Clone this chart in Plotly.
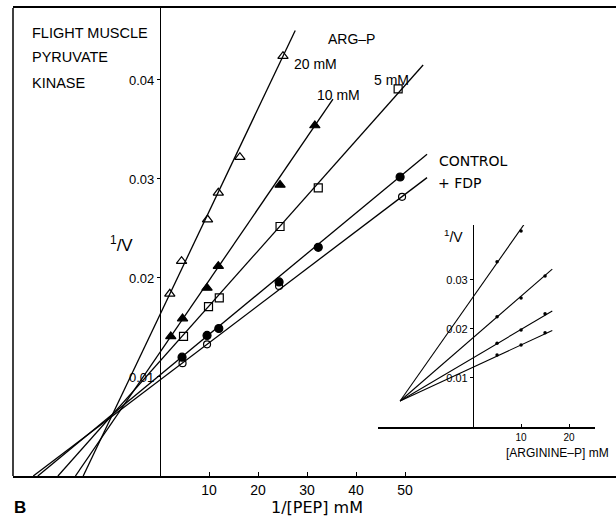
import plotly.graph_objects as go

# ---------------- data ----------------
# main plot: 1/v versus 1/[PEP]
x_20mM = [2.0, 4.4, 9.7, 11.9, 16.3, 25.1]
y_20mM = [0.0184, 0.0217, 0.0259, 0.0286, 0.0322, 0.0424]
x_10mM = [2.2, 4.6, 9.6, 11.9, 24.5, 31.6]
y_10mM = [0.0141, 0.0159, 0.0190, 0.0212, 0.0294, 0.0354]
x_5mM = [4.8, 9.9, 12.1, 24.5, 32.3, 48.6]
y_5mM = [0.0141, 0.0171, 0.0180, 0.0252, 0.0291, 0.0391]
x_control = [4.5, 9.6, 12.0, 24.3, 32.3, 49.0]
y_control = [0.0120, 0.0142, 0.0149, 0.0196, 0.0231, 0.0302]
x_fdp = [4.6, 9.6, 24.3, 49.4]
y_fdp = [0.0114, 0.0133, 0.0192, 0.0282]

# fitted lines (y-intercept, slope, last x)
line_names = ["20 mM", "10 mM", "5 mM", "CONTROL", "+FDP"]
line_intercept = [0.0163, 0.0125, 0.0116, 0.0102, 0.0097]
line_slope = [0.00104, 0.000724, 0.000557, 0.000409, 0.000375]
line_x_end = [27.6, 35.3, 53.7, 54.5, 54.5]

x_ticks = [10, 20, 30, 40, 50]
y_ticks = [0.01, 0.02, 0.03, 0.04]
y_tick_labels = ["0.01", "0.02", "0.03", "0.04"]

# inset: 1/v versus [arginine-P]
inset_x = [[5, 10], [5, 10, 15], [5, 10, 15], [5, 10, 15]]
inset_y = [[0.0337, 0.0400], [0.0225, 0.0263, 0.0308],
           [0.0171, 0.0198, 0.0231], [0.0147, 0.0167, 0.0192]]
inset_line_x0 = -15.2
inset_line_y0 = 0.0053
inset_line_intercept = [0.0265, 0.0182, 0.0141, 0.0122]
inset_line_x_end = [10.8, 16.5, 16.5, 16.5]
inset_x_ticks = [10, 20]
inset_y_ticks = [0.01, 0.02, 0.03]
inset_y_tick_labels = ["0.01", "0.02", "0.03"]

# ---------------- figure ----------------
W, H = 616, 519
ML, MR, MT, MB = 13, 0, 8, 43
X_RANGE = [-30, 93.06]
Y_RANGE = [0, 0.04727]
FONT = "Liberation Sans, Arial, sans-serif"
WIDE = "DejaVu Sans, Liberation Sans, sans-serif"
LW = 1.3

fig = go.Figure()

# main regression lines
for b, m, xe in zip(line_intercept, line_slope, line_x_end):
    xs = -b / m
    fig.add_trace(go.Scatter(x=[xs, xe], y=[0, b + m * xe], mode="lines",
                             line=dict(color="black", width=LW),
                             showlegend=False, hoverinfo="skip"))

series = [
    (x_20mM, y_20mM, "triangle-up-open", 9),
    (x_10mM, y_10mM, "triangle-up", 9),
    (x_5mM, y_5mM, "square-open", 8),
    (x_control, y_control, "circle", 8),
    (x_fdp, y_fdp, "circle-open", 7),
]
for xs, ys, sym, sz in series:
    fig.add_trace(go.Scatter(
        x=xs, y=ys, mode="markers",
        marker=dict(symbol=sym, size=sz, color="black",
                    line=dict(color="black", width=1.2)),
        showlegend=False, hoverinfo="skip"))

# invisible trace to carry the y-axis placed at x = 0
fig.add_trace(go.Scatter(x=[0], y=[0], yaxis="y2", mode="markers",
                         marker=dict(opacity=0), showlegend=False, hoverinfo="skip"))

# inset lines and points
for b, xe in zip(inset_line_intercept, inset_line_x_end):
    m = (b - inset_line_y0) / (0 - inset_line_x0)
    fig.add_trace(go.Scatter(x=[inset_line_x0, xe], y=[inset_line_y0, b + m * xe],
                             mode="lines", line=dict(color="black", width=1.1),
                             xaxis="x3", yaxis="y3", showlegend=False, hoverinfo="skip"))
for xs, ys in zip(inset_x, inset_y):
    fig.add_trace(go.Scatter(x=xs, y=ys, mode="markers",
                             marker=dict(color="black", size=3.5),
                             xaxis="x3", yaxis="y3", showlegend=False, hoverinfo="skip"))

# geometry helpers (pixel -> paper)
pw = W - ML - MR
ph = H - MT - MB
def px_to_paper_x(px):
    return (px - ML) / pw
def py_to_paper_y(py):
    return (H - MB - py) / ph

yaxis2_pos = (0 - X_RANGE[0]) / (X_RANGE[1] - X_RANGE[0])

# inset domains
ix0, ix1 = px_to_paper_x(378), px_to_paper_x(595)
iy0, iy1 = py_to_paper_y(427), py_to_paper_y(225)
INSET_X_RANGE = [-19.8, 25.4]
INSET_Y_RANGE = [0, 0.0412]
yaxis3_pos = ix0 + (0 - INSET_X_RANGE[0]) / (INSET_X_RANGE[1] - INSET_X_RANGE[0]) * (ix1 - ix0)

fig.update_layout(
    width=W, height=H,
    margin=dict(l=ML, r=MR, t=MT, b=MB, pad=0),
    paper_bgcolor="white", plot_bgcolor="white",
    font=dict(family=FONT, color="black", size=13),
    showlegend=False,
    xaxis=dict(range=X_RANGE, domain=[0, 1], showgrid=False, zeroline=False,
               showline=True, mirror=True, linecolor="black", linewidth=1.5,
               tickmode="array", tickvals=x_ticks, ticks="inside", ticklen=4,
               tickcolor="black", tickfont=dict(size=14, family=FONT)),
    yaxis=dict(range=Y_RANGE, domain=[0, 1], showgrid=False, zeroline=False,
               showline=False, showticklabels=False, ticks=""),
    yaxis2=dict(range=Y_RANGE, overlaying="y", anchor="free", position=yaxis2_pos,
                side="left", mirror=False, showgrid=False, zeroline=False, showline=True,
                linecolor="black", linewidth=1.3, tickmode="array",
                tickvals=y_ticks, ticktext=y_tick_labels, ticks="outside",
                ticklen=3, tickcolor="black", tickfont=dict(size=13, family=FONT)),
    xaxis3=dict(range=INSET_X_RANGE, domain=[ix0, ix1], anchor="y3",
                showgrid=False, zeroline=False, showline=True, linecolor="black",
                linewidth=1.5, tickmode="array", tickvals=inset_x_ticks,
                ticks="inside", ticklen=3, tickcolor="black",
                tickfont=dict(size=10, family=FONT)),
    yaxis3=dict(range=INSET_Y_RANGE, domain=[iy0, iy1], anchor="free",
                position=yaxis3_pos, side="left", mirror=False, showgrid=False,
                zeroline=False, showline=True, linecolor="black", linewidth=1.3,
                tickmode="array", tickvals=inset_y_ticks, ticktext=inset_y_tick_labels,
                ticks="outside", ticklen=3, tickcolor="black",
                tickfont=dict(size=11, family=FONT)),
)

# left frame line of the main panel
fig.add_shape(type="line", xref="paper", yref="paper", x0=0, x1=0, y0=0, y1=1,
              line=dict(color="black", width=1.5))

def ann(text, px, py, size=13, xanchor="center", bold=False, family=FONT):
    fig.add_annotation(text=f"<b>{text}</b>" if bold else text,
                       x=px_to_paper_x(px), y=py_to_paper_y(py),
                       xref="paper", yref="paper", showarrow=False,
                       xanchor=xanchor, yanchor="middle",
                       font=dict(size=size, family=family, color="black"))

ann("FLIGHT MUSCLE", 30, 33, 14.5, "left")
ann("PYRUVATE", 30, 57, 14.5, "left")
ann("KINASE", 30, 83, 14.5, "left")
ann("ARG\u2013P", 351, 39, 14)
ann("20 mM", 315, 64, 14)
ann("10 mM", 338, 95, 14)
ann("5 mM", 391, 80, 14)
ann("CONTROL", 437, 161, 14, "left", family=WIDE)
ann("+ FDP", 436, 183, 14, "left", family=WIDE)
ann("<sup>1</sup>/V", 121, 244, 17)
ann("<sup>1</sup>/V", 453, 236, 14)
ann("[ARGININE\u2013P] mM", 557, 453, 12)
ann("1/[PEP] mM", 317, 507, 16, family=WIDE)
ann("B", 20, 507, 17, bold=True)

fig.write_html("out.html", config={"displayModeBar": False},
               post_script="document.body.style.margin='0';document.body.style.padding='0';")
